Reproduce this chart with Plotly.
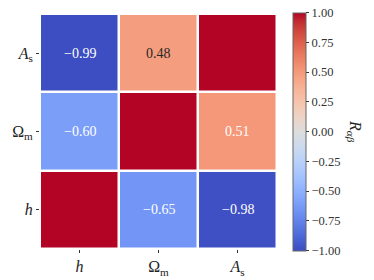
import plotly.graph_objects as go

# ---- data ----
x_labels = ["<i>h</i>", "Ω<sub>m</sub>", "<i>A</i><sub>s</sub>"]
y_labels = ["<i>h</i>", "Ω<sub>m</sub>", "<i>A</i><sub>s</sub>"]  # bottom -> top
row_h = [1.00, -0.65, -0.98]
row_om = [-0.60, 1.00, 0.51]
row_as = [-0.99, 0.48, 1.00]
cbar_ticks = [-1.0, -0.75, -0.5, -0.25, 0.0, 0.25, 0.5, 0.75, 1.0]

z = [row_h, row_om, row_as]

coolwarm = [
    (59, 76, 192), (68, 90, 204), (77, 104, 215), (87, 117, 225), (98, 130, 234),
    (108, 142, 241), (119, 154, 247), (130, 165, 251), (141, 176, 254), (152, 185, 255),
    (163, 194, 255), (174, 201, 253), (184, 208, 249), (194, 213, 244), (204, 217, 238),
    (213, 219, 230), (221, 221, 221), (229, 216, 209), (236, 211, 197), (241, 204, 185),
    (245, 196, 173), (247, 187, 160), (247, 177, 148), (247, 166, 135), (244, 154, 123),
    (241, 141, 111), (236, 127, 99), (229, 112, 88), (222, 96, 77), (213, 80, 66),
    (203, 62, 56), (192, 40, 47), (180, 4, 38),
]
n = len(coolwarm) - 1
colorscale = [[i / n, "rgb(%d,%d,%d)" % c] for i, c in enumerate(coolwarm)]

def fmt(v):
    s = "%.2f" % v
    return s.replace("-", "−")

SERIF = "'Liberation Serif', 'DejaVu Serif', 'Times New Roman', serif"

fig = go.Figure()
fig.add_trace(go.Heatmap(
    z=z,
    x=list(range(len(x_labels))),
    y=list(range(len(y_labels))),
    zmin=-1, zmax=1,
    colorscale=colorscale,
    xgap=2.5, ygap=2.5,
    hoverinfo="skip",
    colorbar=dict(
        x=(293 - 40) / 237, xanchor="left", xref="paper", xpad=0,
        y=0.5, yanchor="middle", ypad=0,
        lenmode="pixels", len=238,
        thickness=13,
        outlinecolor="#666666", outlinewidth=1,
        tickmode="array", tickvals=cbar_ticks, ticktext=[fmt(t) for t in cbar_ticks],
        ticks="outside", ticklen=3, tickcolor="#333333",
        tickfont=dict(family=SERIF, size=12.5, color="#333333"),
    ),
))

annotations = []
for i, row in enumerate(z):
    for j, v in enumerate(row):
        if i == j:
            continue
        annotations.append(dict(
            x=j, y=i, xref="x", yref="y", text=fmt(v), showarrow=False,
            font=dict(family=SERIF, size=14,
                      color="#262626" if abs(v) < 0.5 else "white"),
        ))
annotations.append(dict(
    x=(366 - 40) / 237, y=0.5, xref="paper", yref="paper",
    text="<i>R</i><sub><i>αβ</i></sub>", showarrow=False, textangle=90,
    font=dict(family=SERIF, size=16, color="#222222"),
))

fig.update_layout(
    width=374, height=280,
    margin=dict(l=40, r=97, t=14, b=31, autoexpand=False),
    paper_bgcolor="white", plot_bgcolor="white",
    annotations=annotations,
    xaxis=dict(
        range=[-0.5, 2.5], tickmode="array", tickvals=list(range(3)), ticktext=x_labels,
        ticks="outside", ticklen=3, tickcolor="#333333", showgrid=False, zeroline=False,
        showline=False, automargin=False,
        tickfont=dict(family=SERIF, size=16, color="#222222"),
    ),
    yaxis=dict(
        range=[-0.5, 2.5], tickmode="array", tickvals=list(range(3)), ticktext=y_labels,
        ticks="outside", ticklen=3, tickcolor="#333333", showgrid=False, zeroline=False,
        showline=False, automargin=False,
        tickfont=dict(family=SERIF, size=16, color="#222222"),
    ),
)

fig.write_html("out.html", config={"displayModeBar": False},
               post_script="document.body.style.margin='0';")
